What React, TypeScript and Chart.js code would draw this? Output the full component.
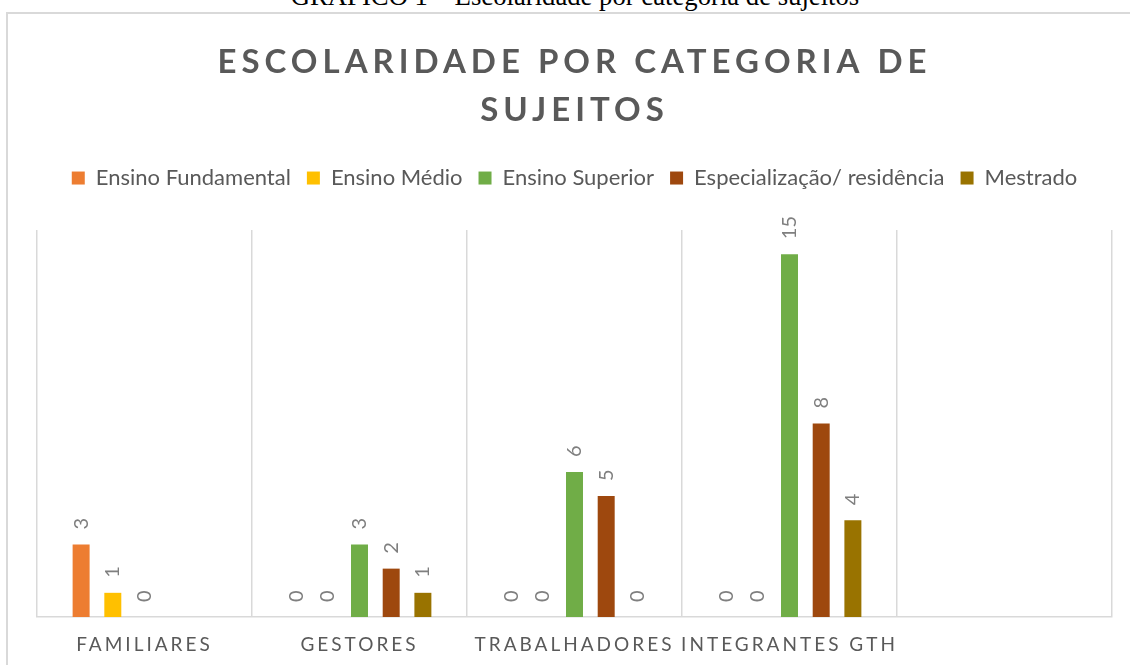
import React, { useEffect, useRef } from 'react';
import { Chart, registerables } from 'chart.js';

Chart.register(...registerables);

const caption = 'GRÁFICO 1 – Escolaridade por categoria de sujeitos';
const titleLines = ['ESCOLARIDADE POR CATEGORIA DE', 'SUJEITOS'];
const categories = ['FAMILIARES', 'GESTORES', 'TRABALHADORES', 'INTEGRANTES GTH', ''];
const seriesNames = ['Ensino Fundamental', 'Ensino Médio', 'Ensino Superior', 'Especialização/ residência', 'Mestrado'];
const ensinoFundamental = [3, 0, 0, 0, null];
const ensinoMedio = [1, 0, 0, 0, null];
const ensinoSuperior = [0, 3, 6, 15, null];
const especializacao = [null, 2, 5, 8, null];
const mestrado = [null, 1, 0, 4, null];
const seriesColors = ['#ED7D31', '#FFC000', '#70AD47', '#9E480E', '#997300'];
const yMax = 16;

const FONT = 'Lato, "Open Sans", sans-serif';

const spacingPlugin = {
  id: 'letterSpacingPatch',
  beforeDraw(chart: any) {
    const ctx = chart.ctx;
    const tb = chart.titleBlock;
    if (tb && !tb.__patched) {
      const orig = tb.draw.bind(tb);
      tb.draw = (...a: any[]) => {
        ctx.save();
        ctx.letterSpacing = '5px';
        orig(...a);
        ctx.restore();
      };
      tb.__patched = true;
    }
    const xs = chart.scales.x;
    if (xs && !xs.__patched) {
      const orig = xs.drawLabels.bind(xs);
      xs.drawLabels = (...a: any[]) => {
        ctx.save();
        ctx.letterSpacing = '3px';
        orig(...a);
        ctx.restore();
      };
      xs.__patched = true;
    }
  },
};

const valueLabels = {
  id: 'valueLabels',
  afterDatasetsDraw(chart: any) {
    const ctx = chart.ctx;
    ctx.save();
    ctx.font = '20px ' + FONT;
    ctx.fillStyle = '#7f7f7f';
    ctx.textAlign = 'left';
    ctx.textBaseline = 'middle';
    chart.data.datasets.forEach((ds: any, di: number) => {
      const meta = chart.getDatasetMeta(di);
      meta.data.forEach((bar: any, i: number) => {
        const v = ds.data[i];
        if (v === null || v === undefined) return;
        ctx.save();
        ctx.translate(bar.x, bar.y - 15);
        ctx.rotate(-Math.PI / 2);
        ctx.fillText(String(v), 0, 0);
        ctx.restore();
      });
    });
    ctx.restore();
  },
};

export default function App() {
  const ref = useRef<HTMLCanvasElement | null>(null);

  useEffect(() => {
    if (!ref.current) return;
    const seriesData = [ensinoFundamental, ensinoMedio, ensinoSuperior, especializacao, mestrado];
    const chart = new Chart(ref.current, {
      type: 'bar',
      data: {
        labels: categories,
        datasets: seriesNames.map((name, i) => ({
          label: name,
          data: seriesData[i],
          backgroundColor: seriesColors[i],
          borderWidth: 0,
          categoryPercentage: 0.737,
          barPercentage: 0.536,
        })),
      },
      options: {
        responsive: false,
        animation: false,
        layout: { padding: { left: 28, right: 18, top: 0, bottom: 8 } },
        plugins: {
          title: {
            display: true,
            text: titleLines,
            color: '#595959',
            font: { family: FONT, size: 33, weight: 'bold', lineHeight: 1.455 },
            padding: { top: 24, bottom: 17 },
          },
          legend: {
            display: true,
            labels: {
              boxWidth: 13,
              boxHeight: 13,
              padding: 16,
              color: '#595959',
              font: { family: FONT, size: 22 },
            },
          },
          tooltip: { enabled: false },
        },
        scales: {
          x: {
            type: 'category',
            offset: true,
            grid: { display: true, offset: true, color: '#d9d9d9', lineWidth: 1.5, drawTicks: false },
            border: { display: true, color: '#d9d9d9', width: 1.5 },
            ticks: {
              color: '#595959',
              font: { family: FONT, size: 19 },
              padding: 16,
              maxRotation: 0,
              autoSkip: false,
            },
            afterFit: (s: any) => {
              s.height = 40;
            },
          },
          x2: {
            type: 'category',
            position: 'top',
            display: true,
            grid: { display: false },
            border: { display: false },
            ticks: { display: false },
            afterFit: (s: any) => {
              s.height = 31;
            },
          },
          y: {
            display: false,
            min: 0,
            max: yMax,
          },
        },
      },
      plugins: [spacingPlugin, valueLabels],
    });
    return () => chart.destroy();
  }, []);

  return (
    <div style={{ position: 'absolute', left: 0, top: 0, width: 1130, height: 665, overflow: 'hidden', background: '#fff' }}>
      <div
        style={{
          position: 'absolute',
          left: 0,
          top: -17,
          width: 1150,
          textAlign: 'center',
          fontFamily: '"Liberation Serif", "Times New Roman", serif',
          fontSize: 26.7,
          lineHeight: 1,
          color: '#000',
          whiteSpace: 'nowrap',
        }}
      >
        {caption}
      </div>
      <div
        style={{
          position: 'absolute',
          left: 6,
          top: 12,
          width: 1300,
          height: 800,
          borderTop: '2px solid #d9d9d9',
          borderLeft: '2px solid #d9d9d9',
        }}
      />
      <canvas
        ref={ref}
        width={1121}
        height={651}
        style={{ position: 'absolute', left: 9, top: 14, width: 1121, height: 651 }}
      />
    </div>
  );
}
